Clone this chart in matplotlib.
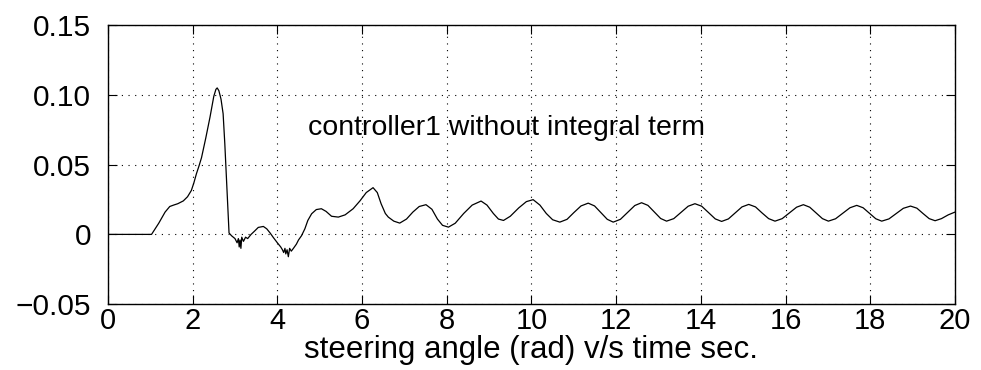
import numpy as np
import matplotlib.pyplot as plt

plt.rcParams['font.family'] = ['Liberation Sans', 'DejaVu Sans']

# time (s) and steering angle (rad)
t = [0, 1.03, 1.2, 1.35, 1.46, 1.55, 1.65, 1.78, 1.88, 1.97, 2.03, 2.09, 2.15, 2.21,
     2.31, 2.41, 2.50, 2.55, 2.58, 2.62, 2.67, 2.72, 2.76, 2.80, 2.84, 2.86, 2.92,
     3.0, 3.05, 3.08, 3.10, 3.12, 3.14, 3.16, 3.20, 3.25, 3.30, 3.38, 3.45, 3.55,
     3.67, 3.75, 3.83, 3.90, 4.0, 4.08, 4.12, 4.15, 4.18, 4.20, 4.23, 4.26, 4.29,
     4.33, 4.38, 4.45, 4.50, 4.57, 4.65, 4.72, 4.81, 4.92, 5.04, 5.15, 5.28, 5.44,
     5.60, 5.79, 5.95, 6.10, 6.26, 6.36, 6.45, 6.55, 6.62, 6.75, 6.89, 7.05, 7.20,
     7.35, 7.51, 7.65, 7.78, 7.90, 8.04, 8.20, 8.40, 8.60, 8.81, 8.95, 9.10, 9.22,
     9.34, 9.50, 9.70, 9.88, 10.04, 10.20, 10.35, 10.50, 10.67,
     10.84, 11.0, 11.17, 11.34, 11.49, 11.64, 11.79, 11.93,
     12.10, 12.27, 12.44, 12.60, 12.75, 12.90, 13.05, 13.19,
     13.36, 13.53, 13.70, 13.86, 14.02, 14.18, 14.34, 14.49,
     14.65, 14.81, 14.97, 15.13, 15.29, 15.44, 15.60, 15.75,
     15.92, 16.09, 16.26, 16.42, 16.57, 16.72, 16.87, 17.01,
     17.18, 17.35, 17.52, 17.68, 17.83, 17.98, 18.13, 18.27,
     18.44, 18.61, 18.78, 18.95, 19.10, 19.24, 19.39, 19.53,
     19.68, 19.84, 20.0]
angle = [0, 0, 0.008, 0.016, 0.020, 0.021, 0.022, 0.024, 0.027, 0.0315, 0.037, 0.0435, 0.049, 0.055,
         0.069, 0.084, 0.099, 0.104, 0.105, 0.103, 0.097, 0.0865, 0.065, 0.039, 0.012, 0.001, -0.001,
         -0.003, -0.006, -0.003, -0.009, -0.004, -0.010, -0.002, -0.005, -0.002, -0.003, 0.000, 0.002, 0.005,
         0.0057, 0.004, 0.001, -0.002, -0.006, -0.009, -0.011, -0.013, -0.010, -0.014, -0.011, -0.016, -0.010,
         -0.012, -0.010, -0.007, -0.004, -0.001, 0.004, 0.010, 0.0148, 0.0178, 0.0184, 0.0165, 0.013, 0.0124,
         0.014, 0.0184, 0.024, 0.030, 0.0335, 0.030, 0.022, 0.015, 0.0124, 0.0095, 0.0081, 0.011, 0.016,
         0.0200, 0.0213, 0.018, 0.011, 0.0065, 0.0052, 0.008, 0.015, 0.021, 0.0239, 0.021, 0.015, 0.011,
         0.010, 0.013, 0.019, 0.0235, 0.0249, 0.021, 0.015, 0.0105, 0.0088,
         0.0108, 0.0156, 0.0204, 0.0224, 0.0204, 0.0156, 0.0108, 0.0088,
         0.0108, 0.0158, 0.0207, 0.0227, 0.0208, 0.0161, 0.0114, 0.0095,
         0.0113, 0.0157, 0.0202, 0.0220, 0.0202, 0.0157, 0.0111, 0.0093,
         0.0111, 0.0154, 0.0197, 0.0215, 0.0197, 0.0155, 0.0113, 0.0095,
         0.0113, 0.0154, 0.0195, 0.0213, 0.0195, 0.0154, 0.0113, 0.0095,
         0.0112, 0.0152, 0.0191, 0.0208, 0.0191, 0.0152, 0.0112, 0.0095,
         0.0111, 0.0149, 0.0187, 0.0203, 0.0188, 0.0151, 0.0113, 0.0098,
         0.0113, 0.0140, 0.0160]

xticks = [0, 2, 4, 6, 8, 10, 12, 14, 16, 18, 20]
yticks = [-0.05, 0, 0.05, 0.10, 0.15]
ylabels = ['\u22120.05', '0', '0.05', '0.10', '0.15']

fig = plt.figure(figsize=(9.81, 3.70), dpi=100)
ax = fig.add_axes([0.110, 0.178, 0.8635, 0.754])
ax.plot(t, angle, color='k', linewidth=0.9)

ax.set_xlim(0, 20)
ax.set_ylim(-0.05, 0.15)
ax.set_xticks(xticks)
ax.set_yticks(yticks)
ax.set_yticklabels(ylabels)
ax.tick_params(direction='in', length=6.5, width=0.8, labelsize=21,
               top=True, right=True, pad=2)
ax.tick_params(axis='y', pad=12, labelsize=21.5)
ax.grid(True, color='k', linestyle=(0, (1, 5)), linewidth=0.8)
for s in ax.spines.values():
    s.set_linewidth(1.0)

ax.set_xlabel('steering angle (rad) v/s time sec.', fontsize=22.5, labelpad=0)
ax.text(4.72, 0.0765, 'controller1 without integral term', fontsize=20.5, va='center')

plt.savefig('out.png', dpi=100)
